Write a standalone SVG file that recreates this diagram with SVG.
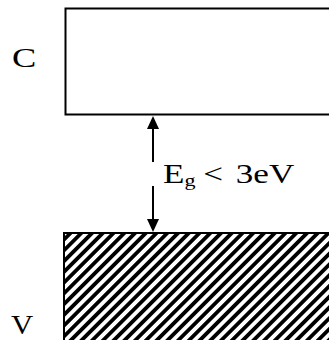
<svg xmlns="http://www.w3.org/2000/svg" width="329" height="340" viewBox="0 0 329 340">
<style>
.band{fill:none;stroke:#000;stroke-width:2}
.lbl{font-family:"Liberation Serif","Times New Roman",serif;fill:#000}
.conn{stroke:#000;stroke-width:2;fill:none}
</style>
<defs>
<pattern id="hatch" patternUnits="userSpaceOnUse" width="7.6" height="7.6" patternTransform="rotate(45)">
<rect x="0" y="0" width="3.8" height="7.6" fill="#000"/>
</pattern>
</defs>
<rect width="329" height="340" fill="#fff"/>
<g id="conduction">
<path class="band" d="M332 8.5 H65.5 V114.5 H332"/>
<text class="lbl" font-size="28" transform="translate(12,67) scale(1.3,1)">C</text>
</g>
<g id="valence">
<rect x="64" y="233" width="270" height="110" fill="url(#hatch)"/>
<path class="band" d="M332 233 H64 V342"/>
<text class="lbl" font-size="28" transform="translate(11,334) scale(1.1,1)">V</text>
</g>
<g id="connectors">
<line class="conn" x1="153" y1="127" x2="153" y2="162"/>
<line class="conn" x1="153" y1="186" x2="153" y2="221"/>
<polygon points="153,116 147,129 159,129" fill="#000"/>
<polygon points="153,232 147,219 159,219" fill="#000"/>
</g>
<g id="gap-label">
<text class="lbl" font-size="27" transform="translate(163,183) scale(1.3,1)">E<tspan font-size="17" dy="3">g</tspan><tspan dy="-3" x="31">&lt;</tspan><tspan x="56">3eV</tspan></text>
</g>
</svg>
